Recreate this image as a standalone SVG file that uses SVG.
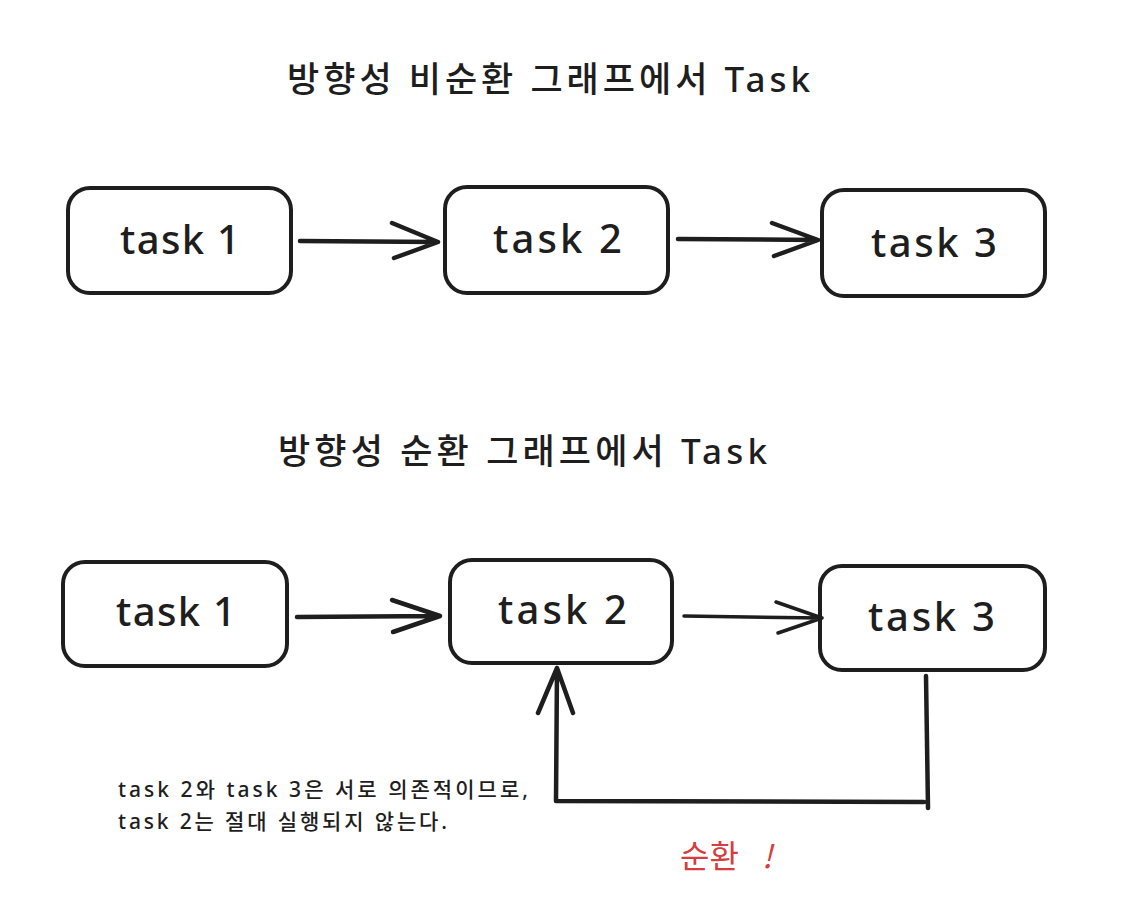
<svg xmlns="http://www.w3.org/2000/svg" width="1124" height="924" viewBox="0 0 1124 924">
<style>
.box{fill:#fff;stroke:#1e1e1e;stroke-width:4}
.lbl{font-family:"Noto Sans","Noto Sans CJK KR",sans-serif;font-size:40px;font-weight:500;fill:#1e1e1e;dominant-baseline:central}
.title{font-family:"Noto Sans","Noto Sans CJK KR",sans-serif;font-size:35px;font-weight:500;fill:#1e1e1e}
.note{font-family:"Noto Sans","Noto Sans CJK KR",sans-serif;font-size:21px;font-weight:500;fill:#1e1e1e}
.edge{fill:none;stroke:#1e1e1e;stroke-width:4.5;stroke-linecap:round;stroke-linejoin:round}
.thin{stroke-width:3.5}
</style>
<rect width="1124" height="924" fill="#fff"/>
<text class="title" x="287" y="92" textLength="523" lengthAdjust="spacing">방향성 비순환 그래프에서 Task</text>
<text class="title" x="278" y="464" textLength="489" lengthAdjust="spacing">방향성 순환 그래프에서 Task</text>
<g id="t1a"><rect class="box" x="68" y="188" width="223" height="105" rx="22"/><text class="lbl" x="120" y="238" textLength="120" lengthAdjust="spacing">task 1</text></g>
<g id="t2a"><rect class="box" x="445" y="187" width="223" height="106" rx="22"/><text class="lbl" x="493" y="237" textLength="129" lengthAdjust="spacing">task 2</text></g>
<g id="t3a"><rect class="box" x="822" y="190" width="223" height="106" rx="22"/><text class="lbl" x="871" y="241" textLength="126" lengthAdjust="spacing">task 3</text></g>
<g id="t1b"><rect class="box" x="63" y="562" width="224" height="104" rx="22"/><text class="lbl" x="116" y="610" textLength="120" lengthAdjust="spacing">task 1</text></g>
<g id="t2b"><rect class="box" x="450" y="560" width="222" height="103" rx="22"/><text class="lbl" x="498" y="608" textLength="129" lengthAdjust="spacing">task 2</text></g>
<g id="t3b"><rect class="box" x="820" y="566" width="225" height="104" rx="22"/><text class="lbl" x="868" y="615" textLength="127" lengthAdjust="spacing">task 3</text></g>
<g id="edges">
<path class="edge" d="M300 241 L438 242 M392 223 L438 242 L394 258"/>
<path class="edge" d="M678 239 L818 240 M772 223 L818 240 L774 256"/>
<path class="edge" d="M297 617 L440 616 M392 600 L440 616 L393 632"/>
<path class="edge thin" d="M684 616 L822 618 M776 602 L822 618 L778 633"/>
<path class="edge" d="M926 676 L928 808 M924 802 L556 801 L557 668 M538 713 L557 668 L573 713"/>
</g>
<text class="note" x="118" y="797" textLength="410" lengthAdjust="spacing">task 2와 task 3은 서로 의존적이므로,</text>
<text class="note" x="118" y="829" textLength="329" lengthAdjust="spacing">task 2는 절대 실행되지 않는다.</text>
<text x="680" y="868" font-family="Noto Sans CJK KR, sans-serif" font-size="32" fill="#d63d3d">순환 <tspan x="762" font-style="italic">!</tspan></text>
</svg>
